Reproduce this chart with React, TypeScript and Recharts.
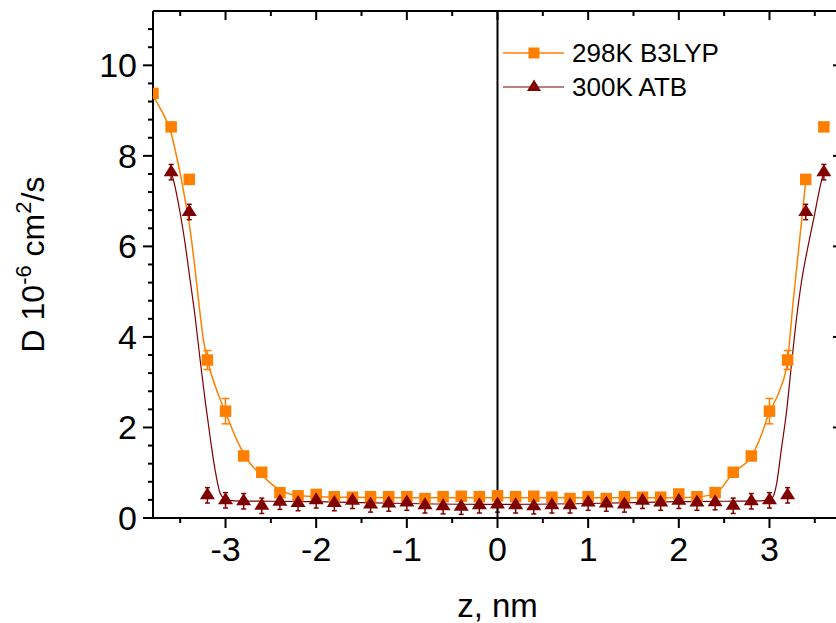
import React from 'react';
import {
  ComposedChart,
  Line,
  Scatter,
  XAxis,
  YAxis,
  ErrorBar,
  ReferenceLine,
  Legend,
} from 'recharts';

const FONT = '"Liberation Sans", Arial, Helvetica, sans-serif';
const ORANGE = '#FF8000';
const MAROON = '#800000';

// 298K B3LYP: diffusion coefficient D (10^-6 cm^2/s) vs. depth z (nm)
const zB3lyp = [
  -3.8, -3.6, -3.4, -3.2, -3.0, -2.8, -2.6, -2.4, -2.2, -2.0, -1.8, -1.6, -1.4,
  -1.2, -1.0, -0.8, -0.6, -0.4, -0.2, 0, 0.2, 0.4, 0.6, 0.8, 1.0, 1.2, 1.4, 1.6,
  1.8, 2.0, 2.2, 2.4, 2.6, 2.8, 3.0, 3.2, 3.4, 3.6,
];
const dB3lyp = [
  9.38, 8.64, 7.48, 3.49, 2.36, 1.37, 1.01, 0.56, 0.49, 0.52, 0.47, 0.46, 0.47,
  0.47, 0.47, 0.43, 0.47, 0.48, 0.47, 0.49, 0.47, 0.48, 0.46, 0.43, 0.47, 0.43,
  0.47, 0.46, 0.46, 0.53, 0.47, 0.56, 1.01, 1.37, 2.36, 3.49, 7.48, 8.64,
];
const errB3lyp = [
  0, 0, 0, 0.21, 0.28, 0, 0, 0, 0, 0, 0, 0, 0, 0, 0, 0, 0, 0, 0, 0, 0, 0, 0, 0,
  0, 0, 0, 0, 0, 0, 0, 0, 0, 0, 0.28, 0.21, 0, 0,
];

// 300K ATB
const zAtb = [
  -3.6, -3.4, -3.2, -3.0, -2.8, -2.6, -2.4, -2.2, -2.0, -1.8, -1.6, -1.4, -1.2,
  -1.0, -0.8, -0.6, -0.4, -0.2, 0, 0.2, 0.4, 0.6, 0.8, 1.0, 1.2, 1.4, 1.6, 1.8,
  2.0, 2.2, 2.4, 2.6, 2.8, 3.0, 3.2, 3.4, 3.6,
];
const dAtb = [
  7.64, 6.76, 0.5, 0.39, 0.37, 0.27, 0.36, 0.33, 0.39, 0.33, 0.38, 0.3, 0.32,
  0.34, 0.28, 0.26, 0.25, 0.28, 0.3, 0.28, 0.26, 0.28, 0.28, 0.34, 0.32, 0.3,
  0.38, 0.34, 0.38, 0.34, 0.35, 0.27, 0.37, 0.39, 0.5, 6.76, 7.64,
];
const errAtb = 0.17;

// Smoothed profile curves
const zB3lypCurve = [
  -3.8, -3.72, -3.655, -3.6, -3.55, -3.5, -3.445, -3.39, -3.345, -3.3, -3.245,
  -3.2, -3.1, -3.0, -2.875, -2.73, -2.58, -2.435, -2.29, -2.1, -1.8, -1.0, 0,
  1.0, 1.8, 2.0, 2.23, 2.41, 2.6, 2.8, 2.9, 3.0, 3.115, 3.2, 3.26, 3.317, 3.354,
  3.4,
];
const dB3lypCurve = [
  9.32, 9.05, 8.79, 8.5, 8.08, 7.61, 7.02, 6.36, 5.65, 4.85, 3.95, 3.49, 2.84,
  2.33, 1.72, 1.21, 0.91, 0.66, 0.53, 0.48, 0.46, 0.45, 0.45, 0.45, 0.45, 0.45,
  0.47, 0.55, 1.0, 1.36, 1.78, 2.34, 2.83, 3.49, 4.75, 5.85, 6.55, 7.45,
];
const zAtbCurve = [
  -3.6, -3.56, -3.52, -3.48, -3.44, -3.39, -3.335, -3.28, -3.225, -3.17, -3.115,
  -3.06, -3.0, -2.9, -2.5, -2.0, -1.0, 0, 1.0, 2.0, 2.5, 2.9, 3.0, 3.04, 3.08,
  3.13, 3.19, 3.24, 3.3, 3.35, 3.43, 3.5, 3.556, 3.6,
];
const dAtbCurve = [
  7.64, 7.35, 6.95, 6.5, 5.98, 5.25, 4.44, 3.49, 2.6, 1.79, 1.06, 0.55, 0.41,
  0.38, 0.37, 0.36, 0.32, 0.3, 0.32, 0.36, 0.37, 0.38, 0.4, 0.47, 0.77, 1.5,
  2.38, 3.34, 4.44, 5.18, 6.05, 6.73, 7.3, 7.64,
];

// Axis ticks (major ticks are labelled, minor ticks are short marks)
const xMajorTicks = [-3, -2, -1, 0, 1, 2, 3];
const xMinorTicks = [-3.5, -2.5, -1.5, -0.5, 0.5, 1.5, 2.5, 3.5];
const yMajorTicks = [0, 2, 4, 6, 8, 10];
const yMinorTicks = [
  0.4, 0.8, 1.2, 1.6, 2.4, 2.8, 3.2, 3.6, 4.4, 4.8, 5.2, 5.6, 6.4, 6.8, 7.2, 7.6,
  8.4, 8.8, 9.2, 9.6, 10.4, 10.8,
];
// Frame range of the plot
const X_MIN = -3.8;
const X_MAX = 3.8;
const Y_MIN = 0;
const Y_MAX = 11.2;

// Chart geometry: the frame sits inside the plotting area, leaving a
// strip on the left and bottom for the outward tick marks.
const CHART_W = 850;
const CHART_H = 615;
const MARGIN = { top: 3, right: 16, bottom: 5, left: 0 };
const FRAME_LEFT = 145;
const FRAME_BOTTOM = 510;
const PAD = 14;
const FRAME_W = CHART_W - MARGIN.right - FRAME_LEFT;
const FRAME_H = FRAME_BOTTOM - MARGIN.top;
const X_PER_PX = (X_MAX - X_MIN) / FRAME_W;
const Y_PER_PX = (Y_MAX - Y_MIN) / FRAME_H;
const X_DOMAIN: [number, number] = [X_MIN - PAD * X_PER_PX, X_MAX];
const Y_DOMAIN: [number, number] = [Y_MIN - PAD * Y_PER_PX, Y_MAX];
const Y_AXIS_W = FRAME_LEFT - MARGIN.left - PAD;
const X_AXIS_H = CHART_H - MARGIN.bottom - (FRAME_BOTTOM + PAD);
const MAJOR_OUT = 10;
const MAJOR_IN = 9;
const MINOR = 5;

const b3lypPoints = zB3lyp.map((z, i) => ({ z, D: dB3lyp[i], err: errB3lyp[i] }));
const atbPoints = zAtb.map((z, i) => ({ z, D: dAtb[i], err: errAtb }));
const b3lypCurve = zB3lypCurve.map((z, i) => ({ z, D: dB3lypCurve[i] }));
const atbCurve = zAtbCurve.map((z, i) => ({ z, D: dAtbCurve[i] }));

type Seg = [{ x: number; y: number }, { x: number; y: number }];

// Frame edges
const frameSegments: Seg[] = [
  [{ x: X_MIN, y: Y_MIN }, { x: X_MAX, y: Y_MIN }],
  [{ x: X_MIN, y: Y_MAX }, { x: X_MAX, y: Y_MAX }],
  [{ x: X_MIN, y: Y_MIN }, { x: X_MIN, y: Y_MAX }],
  [{ x: X_MAX, y: Y_MIN }, { x: X_MAX, y: Y_MAX }],
];

// Tick marks: outward on bottom/left, inward on top/right
const tickSegments: Seg[] = [];
[...xMajorTicks, ...xMinorTicks].forEach((v) => {
  const major = xMajorTicks.includes(v);
  const outLen = (major ? MAJOR_OUT : MINOR) * Y_PER_PX;
  const inLen = (major ? MAJOR_IN : MINOR) * Y_PER_PX;
  tickSegments.push([{ x: v, y: Y_MIN }, { x: v, y: Y_MIN - outLen }]);
  tickSegments.push([{ x: v, y: Y_MAX }, { x: v, y: Y_MAX - inLen }]);
});
[...yMajorTicks, ...yMinorTicks].forEach((v) => {
  const major = yMajorTicks.includes(v);
  const outLen = (major ? MAJOR_OUT : MINOR) * X_PER_PX;
  const inLen = (major ? MAJOR_IN : MINOR) * X_PER_PX;
  tickSegments.push([{ x: X_MIN - outLen, y: v }, { x: X_MIN, y: v }]);
  tickSegments.push([{ x: X_MAX, y: v }, { x: X_MAX - inLen, y: v }]);
});

// Tick labels; the axes sit PAD pixels outside the frame
const BottomLabel = (props: any) => {
  const x = Number(props.x);
  const y = Number(props.y);
  return (
    <text x={x} y={y - PAD + 43} textAnchor="middle" fontSize={34} fontFamily={FONT} fill="#000">
      {String(props.payload.value)}
    </text>
  );
};

const LeftLabel = (props: any) => {
  const x = Number(props.x);
  const y = Number(props.y);
  return (
    <text x={x + PAD - 16} y={y + 12} textAnchor="end" fontSize={34} fontFamily={FONT} fill="#000">
      {String(props.payload.value)}
    </text>
  );
};

const XTitle = () => (
  <text
    x={FRAME_LEFT + FRAME_W / 2}
    y={FRAME_BOTTOM + 99}
    textAnchor="middle"
    fontSize={33}
    fontFamily={FONT}
    fill="#000"
  >
    z, nm
  </text>
);

const YTitle = () => {
  const cx = MARGIN.left + 36;
  const cy = MARGIN.top + FRAME_H / 2;
  return (
    <text
      x={cx}
      y={cy}
      transform={`rotate(-90, ${cx}, ${cy})`}
      textAnchor="middle"
      fontSize={32}
      fontFamily={FONT}
      fill="#000"
    >
      {'D 10'}
      <tspan fontSize={22} dy={-13}>
        {'-6'}
      </tspan>
      <tspan dy={13}>{' cm'}</tspan>
      <tspan fontSize={22} dy={-13}>
        {'2'}
      </tspan>
      <tspan dy={13}>{'/s'}</tspan>
    </text>
  );
};

// Square marker, trimmed at the left frame so edge points sit half inside
const SquareDot = (props: any) => {
  const { cx, cy } = props;
  if (cx == null || cy == null) return <g />;
  const half = 5.75;
  const x0 = Math.max(cx - half, FRAME_LEFT);
  const w = cx + half - x0;
  return <rect x={x0} y={cy - half} width={w} height={half * 2} fill={ORANGE} />;
};

const TriangleDot = (props: any) => {
  const { cx, cy } = props;
  if (cx == null || cy == null) return <g />;
  return (
    <polygon
      points={`${cx},${cy - 8} ${cx + 7.5},${cy + 4} ${cx - 7.5},${cy + 4}`}
      fill={MAROON}
    />
  );
};

const LegendBox = () => (
  <svg width={260} height={70} style={{ overflow: 'visible', display: 'block' }}>
    <line x1={0} y1={18} x2={61} y2={18} stroke={ORANGE} strokeWidth={1.5} />
    <rect x={31 - 5.5} y={18 - 5.5} width={11} height={11} fill={ORANGE} />
    <text x={69} y={27} fontSize={26} fontFamily={FONT} fill="#000">
      298K B3LYP
    </text>
    <line x1={0} y1={52} x2={61} y2={52} stroke={MAROON} strokeWidth={1.2} />
    <polygon points={`31,${52 - 7.5} ${31 + 7},${52 + 4} ${31 - 7},${52 + 4}`} fill={MAROON} />
    <text x={69} y={61} fontSize={26} fontFamily={FONT} fill="#000">
      300K ATB
    </text>
  </svg>
);

export default function App() {
  return (
    <div
      style={{
        position: 'absolute',
        left: 8,
        top: 8,
        width: 828,
        height: 615,
        overflow: 'hidden',
        background: '#fff',
      }}
    >
      <ComposedChart width={CHART_W} height={CHART_H} margin={MARGIN}>
        <XAxis
          dataKey="z"
          type="number"
          domain={X_DOMAIN}
          ticks={xMajorTicks}
          interval={0}
          tick={(p: any) => <BottomLabel {...p} />}
          tickLine={false}
          axisLine={false}
          tickSize={0}
          tickMargin={0}
          height={X_AXIS_H}
          label={{ content: () => <XTitle /> }}
        />
        <YAxis
          type="number"
          domain={Y_DOMAIN}
          ticks={yMajorTicks}
          interval={0}
          tick={(p: any) => <LeftLabel {...p} />}
          tickLine={false}
          axisLine={false}
          tickSize={0}
          tickMargin={0}
          width={Y_AXIS_W}
          label={{ content: () => <YTitle /> }}
        />
        <Legend
          layout="vertical"
          align="center"
          verticalAlign="middle"
          wrapperStyle={{ left: 495, top: 27, width: 260, height: 70 }}
          content={() => <LegendBox />}
        />
        {tickSegments.map((seg, i) => (
          <ReferenceLine
            key={`tick-${i}`}
            segment={seg}
            ifOverflow="visible"
            stroke="#000"
            strokeWidth={2}
          />
        ))}
        {frameSegments.map((seg, i) => (
          <ReferenceLine
            key={`frame-${i}`}
            segment={seg}
            ifOverflow="visible"
            stroke="#000"
            strokeWidth={2}
          />
        ))}
        <Line
          data={b3lypCurve}
          dataKey="D"
          type="monotone"
          stroke={ORANGE}
          strokeWidth={1.5}
          dot={false}
          activeDot={false}
          isAnimationActive={false}
          legendType="none"
        />
        <Line
          data={atbCurve}
          dataKey="D"
          type="monotone"
          stroke={MAROON}
          strokeWidth={1.2}
          dot={false}
          activeDot={false}
          isAnimationActive={false}
          legendType="none"
        />
        <Scatter
          name="298K B3LYP"
          data={b3lypPoints}
          dataKey="D"
          shape={(p: any) => <SquareDot {...p} />}
          isAnimationActive={false}
        >
          <ErrorBar dataKey="err" direction="y" width={4} stroke={ORANGE} strokeWidth={1.5} />
        </Scatter>
        <Scatter
          name="300K ATB"
          data={atbPoints}
          dataKey="D"
          shape={(p: any) => <TriangleDot {...p} />}
          isAnimationActive={false}
        >
          <ErrorBar dataKey="err" direction="y" width={2.5} stroke={MAROON} strokeWidth={1.5} />
        </Scatter>
        <ReferenceLine
          segment={[{ x: 0, y: Y_MIN }, { x: 0, y: Y_MAX }]}
          stroke="#000"
          strokeWidth={2}
        />
      </ComposedChart>
    </div>
  );
}
